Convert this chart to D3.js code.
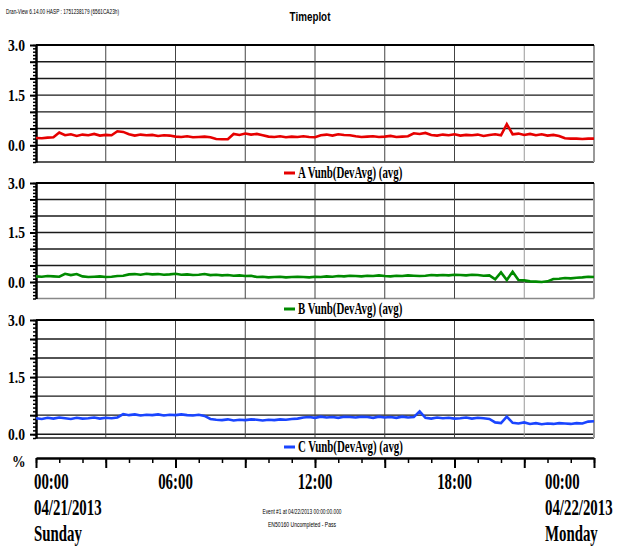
<!DOCTYPE html>
<html>
<head>
<meta charset="utf-8">
<script src="https://cdn.jsdelivr.net/npm/d3@7"></script>
<style>
  body { margin: 0; background: #fff; }
</style>
</head>
<body>
<script>
// DATA - 15 minute averages, 04/21/2013 00:00 to 04/22/2013 00:00

var sampleMinutes = 15;

var vunbA = [0.22, 0.21, 0.23, 0.24, 0.38,
  0.30, 0.33, 0.28, 0.32, 0.30, 0.34, 0.29, 0.31, 0.30,
  0.42, 0.40,
  0.33, 0.29, 0.32, 0.30, 0.31, 0.28, 0.30, 0.29,
  0.26, 0.25, 0.27, 0.24, 0.25, 0.26, 0.24,
  0.19, 0.18, 0.18,
  0.34, 0.31, 0.35, 0.32, 0.34, 0.30,
  0.26, 0.25, 0.27, 0.24, 0.26, 0.25, 0.27, 0.25, 0.24,
  0.30, 0.32, 0.29, 0.33, 0.31, 0.30,
  0.27, 0.25, 0.26, 0.27, 0.25, 0.26, 0.28, 0.25, 0.26, 0.27,
  0.36, 0.34, 0.37,
  0.31, 0.29, 0.32, 0.30, 0.33, 0.29, 0.31, 0.30, 0.32, 0.28, 0.31, 0.33,
  0.30, 0.63,
  0.33, 0.35, 0.31, 0.34, 0.30, 0.33, 0.29, 0.31, 0.28,
  0.21, 0.20, 0.20, 0.19, 0.20, 0.20];

var vunbB = [0.17, 0.16, 0.18, 0.17, 0.16,
  0.25, 0.21, 0.24,
  0.17, 0.15, 0.16, 0.17, 0.15, 0.16, 0.18, 0.19,
  0.23, 0.24, 0.22, 0.25, 0.23, 0.24, 0.22, 0.23, 0.25, 0.22, 0.23,
  0.21, 0.22, 0.24, 0.21, 0.22, 0.20, 0.21, 0.19, 0.20, 0.18, 0.19,
  0.15, 0.16, 0.14, 0.15, 0.16, 0.14, 0.15, 0.16, 0.15, 0.14, 0.16, 0.15, 0.17, 0.16,
  0.18, 0.17, 0.19, 0.18, 0.17, 0.19, 0.18, 0.20, 0.18,
  0.17, 0.19, 0.18, 0.20, 0.19, 0.18, 0.19, 0.21, 0.20,
  0.21, 0.20, 0.22, 0.21, 0.20, 0.22, 0.21, 0.19, 0.20,
  0.08, 0.29, 0.06, 0.31, 0.06, 0.05,
  0.02, 0.01, 0.00, 0.02,
  0.09, 0.10, 0.12, 0.11, 0.13, 0.14, 0.16, 0.15];

var vunbC = [0.42, 0.40, 0.43, 0.41, 0.44, 0.42, 0.40, 0.43, 0.41, 0.42, 0.44, 0.41, 0.43, 0.42, 0.44,
  0.53, 0.50, 0.52, 0.49, 0.51, 0.50, 0.52, 0.49, 0.51, 0.50, 0.52, 0.50, 0.49, 0.51, 0.48,
  0.40, 0.38, 0.37, 0.39, 0.36, 0.38, 0.37, 0.39, 0.38, 0.36, 0.38, 0.37, 0.39, 0.38, 0.40, 0.41,
  0.44, 0.45, 0.43, 0.46, 0.44, 0.45, 0.43, 0.46, 0.45, 0.44,
  0.46, 0.45, 0.43, 0.46, 0.44, 0.45, 0.43, 0.46, 0.44, 0.45,
  0.60,
  0.43, 0.41, 0.44, 0.42, 0.43, 0.41, 0.42, 0.44, 0.41, 0.43, 0.42, 0.40,
  0.31, 0.29, 0.46, 0.30, 0.28, 0.31,
  0.27, 0.29, 0.26, 0.28, 0.27, 0.29, 0.28, 0.27, 0.29, 0.28,
  0.33, 0.34];

var seriesNames = ["A Vunb(DevAvg) (avg)", "B Vunb(DevAvg) (avg)", "C Vunb(DevAvg) (avg)"];

var yLabelTicks = [0.0, 1.5, 3.0];

var hourTicks = [0, 6, 12, 18, 24];
var hourLabels = [
  ["00:00", "04/21/2013", "Sunday"],
  ["06:00"],
  ["12:00"],
  ["18:00"],
  ["00:00", "04/22/2013", "Monday"]
];

var headerText = "Dran-View 6.14.00 HASP : 1751238179 (6561CA23h)";
var footerLines = ["Event #1 at 04/22/2013 00:00:00.000", "EN50160 Uncompleted - Pass"];

// STYLES

var lineColors = ["#e60000", "#008a00", "#1a45ff"];
var serif = "'Liberation Serif', 'Times New Roman', serif";
var sans = "'Liberation Sans', Arial, sans-serif";

// CHART STRUCTURE

var svgWidth = 618;
var svgHeight = 548;
var left = 36, right = 594;

var panels = [
  {top: 45, bottom: 162, domain: [-0.5, 3], legendY: 173},
  {top: 183, bottom: 298.5, domain: [-0.5, 3], legendY: 309},
  {top: 320, bottom: 438, domain: [-0.1, 3], legendY: 447}
];
var seriesData = [vunbA, vunbB, vunbC];

var svg = d3.select("body")
  .append("svg")
  .attr("width", svgWidth)
  .attr("height", svgHeight);

var xScale = d3.scaleLinear().domain([0, 24]).range([left, right]);

// condensed bold text helper
function condensed(g, str, x, y, size, sx, anchor, family) {
  return g.append("text")
    .attr("transform", `translate(${x},${y}) scale(${sx},1)`)
    .attr("text-anchor", anchor || "start")
    .style("font-family", family || serif)
    .style("font-weight", "bold")
    .style("font-size", size + "px")
    .attr("fill", "#000")
    .text(str);
}

// HEADER + TITLE

svg.append("text")
  .attr("x", 6).attr("y", 14)
  .attr("textLength", 113).attr("lengthAdjust", "spacingAndGlyphs")
  .style("font-family", sans).style("font-size", "7px")
  .text(headerText);

condensed(svg, "Timeplot", 310, 21, 12, 0.82, "middle", sans);

// PANELS

panels.forEach(function(p, i) {
  var g = svg.append("g");
  var yScale = d3.scaleLinear().domain(p.domain).range([p.bottom, p.top]);

  // horizontal grid
  g.selectAll(".hgrid")
    .data(d3.range(0, 3.01, 0.5))
    .enter().append("line")
    .attr("x1", left).attr("x2", right)
    .attr("y1", d => yScale(d)).attr("y2", d => yScale(d))
    .attr("stroke", "#1a1a1a").attr("stroke-width", 1.4);

  // bottom edge
  g.append("line")
    .attr("x1", left).attr("x2", right)
    .attr("y1", p.bottom).attr("y2", p.bottom)
    .attr("stroke", i == 1 ? "#888" : "#222").attr("stroke-width", 1.5);

  // vertical grid every 3 hours
  g.selectAll(".vgrid")
    .data(d3.range(3, 24, 3))
    .enter().append("line")
    .attr("x1", d => xScale(d)).attr("x2", d => xScale(d))
    .attr("y1", p.top).attr("y2", p.bottom)
    .attr("stroke", d => d == 21 ? "#999" : "#444").attr("stroke-width", 1);

  // right edge
  g.append("line")
    .attr("x1", right).attr("x2", right)
    .attr("y1", p.top).attr("y2", p.bottom)
    .attr("stroke", "#999").attr("stroke-width", 2);

  // top edge
  g.append("line")
    .attr("x1", left).attr("x2", right)
    .attr("y1", p.top).attr("y2", p.top)
    .attr("stroke", "#000").attr("stroke-width", 2.2);

  // y axis: minor + major ticks
  var minorTicks = d3.range(Math.ceil(p.domain[0] * 10), 31).map(d => d / 10);
  g.append("g")
    .attr("transform", `translate(${left},0)`)
    .call(d3.axisLeft(yScale).tickValues(minorTicks).tickSize(3).tickSizeOuter(0).tickFormat(""))
    .call(a => a.select(".domain").attr("stroke-width", 2.5))
    .call(a => a.selectAll(".tick line").attr("stroke-width", 1.5));

  g.append("g")
    .attr("transform", `translate(${left},0)`)
    .call(d3.axisLeft(yScale).tickValues(d3.range(0, 3.01, 0.5)).tickSize(6).tickSizeOuter(0).tickFormat(""))
    .call(a => a.select(".domain").remove())
    .call(a => a.selectAll(".tick line").attr("stroke-width", 2));

  yLabelTicks.forEach(function(v) {
    condensed(g, d3.format(".1f")(v), 25, yScale(v) + 5.5, 16, 0.85, "end");
  });

  // series line
  var line = d3.line()
    .x((d, k) => xScale(k * sampleMinutes / 60))
    .y(d => yScale(d));

  g.append("path")
    .datum(seriesData[i])
    .attr("d", line)
    .attr("fill", "none")
    .attr("stroke", lineColors[i])
    .attr("stroke-width", 2.6)
    .attr("stroke-linejoin", "miter");

  // legend
  g.append("line")
    .attr("x1", 284).attr("x2", 295)
    .attr("y1", p.legendY).attr("y2", p.legendY)
    .attr("stroke", lineColors[i]).attr("stroke-width", 3);
  condensed(g, seriesNames[i], 298, p.legendY + 5, 16, 0.68, "start");
});

// X AXIS

var xAxisY = 458;

svg.append("g")
  .attr("transform", `translate(0,${xAxisY})`)
  .call(d3.axisBottom(xScale).tickValues(d3.range(0, 25, 1)).tickSize(5).tickSizeOuter(0).tickFormat(""))
  .call(a => a.select(".domain").attr("stroke-width", 2.5))
  .call(a => a.selectAll(".tick line").attr("stroke-width", 1.5));

svg.append("g")
  .attr("transform", `translate(0,${xAxisY})`)
  .call(d3.axisBottom(xScale).tickValues(d3.range(0, 25, 3)).tickSize(10).tickSizeOuter(0).tickFormat(""))
  .call(a => a.select(".domain").remove())
  .call(a => a.selectAll(".tick line").attr("stroke-width", 2));

condensed(svg, "%", 12, 467, 17, 0.8, "start");

hourTicks.forEach(function(h, i) {
  var lines = hourLabels[i];
  var x = xScale(h), anchor = "middle";
  if (i == 0) { x = 34; anchor = "start"; }
  if (i == hourTicks.length - 1) { x = 545; anchor = "start"; }
  lines.forEach(function(s, k) {
    condensed(svg, s, x, 489 + k * 26, 22.5, 0.66, anchor);
  });
});

// FOOTER

footerLines.forEach(function(s, k) {
  svg.append("text")
    .attr("x", 302).attr("y", 514 + k * 13)
    .attr("text-anchor", "middle")
    .attr("textLength", k == 0 ? 79 : 68).attr("lengthAdjust", "spacingAndGlyphs")
    .style("font-family", sans).style("font-size", "7px")
    .text(s);
});
</script>
</body>
</html>
